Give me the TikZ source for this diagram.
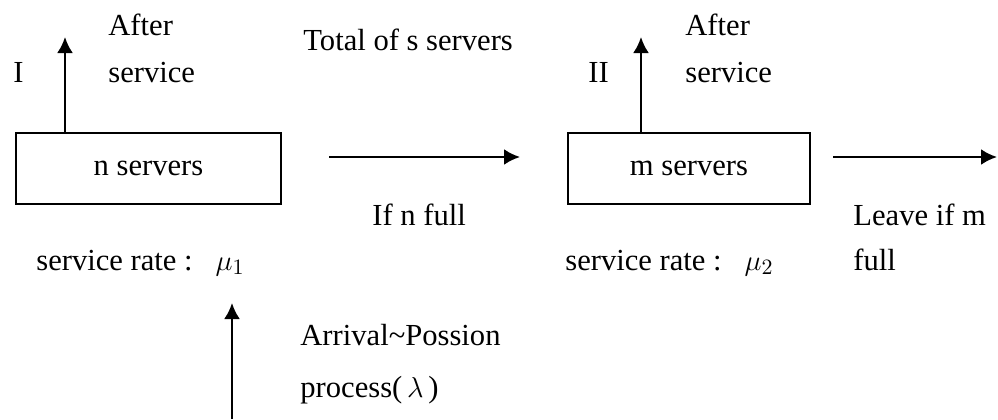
\documentclass[tikz,border=0pt]{standalone}
\usepackage{fontspec}
\setmainfont{Liberation Serif}
\usetikzlibrary{arrows.meta,positioning}

\begin{document}
\begin{tikzpicture}[x=0.5pt,y=0.5pt,>={Latex[length=8pt,width=8pt]},
    every node/.style={font=\fontsize{15.3}{24}\selectfont,inner sep=0pt},
    box/.style={draw,line width=1.2pt,minimum height=35.5pt},
    flow/.style={->,line width=1.2pt}]
  \useasboundingbox (0,0) rectangle (998,419);
  % the two groups of servers
  \node[box,minimum width=132.5pt] (nbox) at (148.5,250.5) {n servers};
  \node[box,minimum width=121pt] (mbox) at (689,250.5) {m servers};
  % arrow ends
  \coordinate (nout) at (65,382);
  \coordinate (mout) at (641,382);
  \coordinate (qa) at (329,262);
  \coordinate (qb) at (520,262);
  \coordinate (la) at (833,262);
  \coordinate (lb) at (997,262);
  \coordinate (arr) at (232,0);
  \coordinate (arrtip) at (232,116);
  \draw[flow] (nbox.north -| nout) -- (nout);
  \draw[flow] (mbox.north -| mout) -- (mout);
  \draw[flow] (qa) -- (qb);
  \draw[flow] (la) -- (lb);
  \draw[flow] (arr) -- (arrtip);
  % labels
  \node[anchor=base west] (lab1) at (13,336) {I};
  \node[anchor=base west] (done1a) at (108,384) {After};
  \node[anchor=base west] (done1b) at (108,336) {service};
  \node[anchor=base west] (lab2) at (588,336) {II};
  \node[anchor=base west] (done2a) at (685,384) {After};
  \node[anchor=base west] (done2b) at (685,336) {service};
  \node[anchor=base west] (total) at (303,369) {Total of s servers};
  \node[anchor=base west] (nfull) at (372,194) {If n full};
  \node[anchor=base west] (leavea) at (853,194) {Leave if m};
  \node[anchor=base west] (leaveb) at (853,149) {full};
  \node[anchor=base west] (rate1) at (36,149) {service rate :\hspace{0.75em}$\mu_1$};
  \node[anchor=base west] (rate2) at (565,149) {service rate :\hspace{0.75em}$\mu_2$};
  \node[anchor=base west] (arriva) at (300,74) {Arrival\textasciitilde Possion};
  \node[anchor=base west] (arrivb) at (300,22) {process($\,\lambda\,$)};
\end{tikzpicture}
\end{document}
